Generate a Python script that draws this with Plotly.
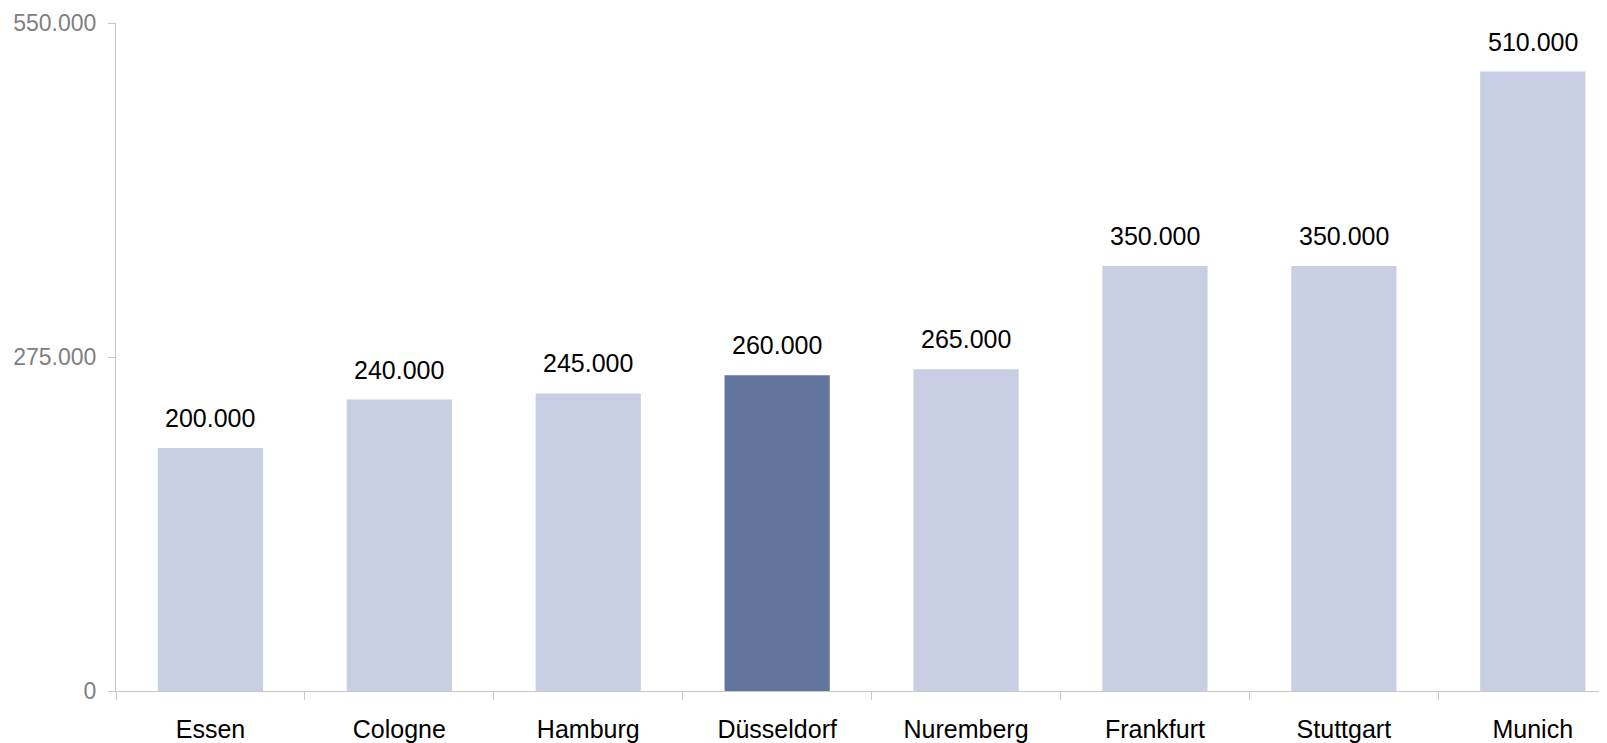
import plotly.graph_objects as go

cities = ["Essen", "Cologne", "Hamburg", "Düsseldorf", "Nuremberg", "Frankfurt", "Stuttgart", "Munich"]
values = [200000, 240000, 245000, 260000, 265000, 350000, 350000, 510000]
highlight = "Düsseldorf"
y_ticks = [0, 275000, 550000]

LIGHT = "#C8CEE4"
DARK = "#62759C"
colors = [DARK if c == highlight else LIGHT for c in cities]

fig = go.Figure()
fig.add_trace(go.Bar(x=cities, y=values, marker=dict(color=colors, line=dict(width=0)),
                     hoverinfo="x+y"))

for c, v in zip(cities, values):
    fig.add_annotation(x=c, y=v, text=f"{v:,}".replace(",", "."), showarrow=False,
                       yanchor="bottom", yshift=14,
                       font=dict(family="Liberation Sans, Arial", size=25, color="#000000"))

fig.update_layout(
    width=1599, height=735,
    margin=dict(l=108, r=0, t=15, b=52, autoexpand=False),
    paper_bgcolor="white", plot_bgcolor="white",
    bargap=0.443,
    separators=",.",
    showlegend=False,
    font=dict(family="Liberation Sans, Arial"),
)
fig.update_xaxes(
    type="category", range=[-0.5, 7.393],
    showline=True, linecolor="#C8C8C8", linewidth=1,
    ticks="outside", tickson="boundaries", ticklen=8, tickcolor="#C8C8C8",
    showgrid=False, zeroline=False, automargin=False,
    tickfont=dict(size=25, color="#000000"),
    ticklabelstandoff=16,
)
fig.update_yaxes(
    range=[0, 550000], tickvals=y_ticks, tickformat=",d",
    showline=True, linecolor="#C8C8C8", linewidth=1,
    ticks="outside", ticklen=7, tickcolor="#C8C8C8",
    showgrid=False, zeroline=False, automargin=False,
    tickfont=dict(size=23, color="#808080"),
    ticklabelstandoff=7,
)

fig.write_html("out.html")
